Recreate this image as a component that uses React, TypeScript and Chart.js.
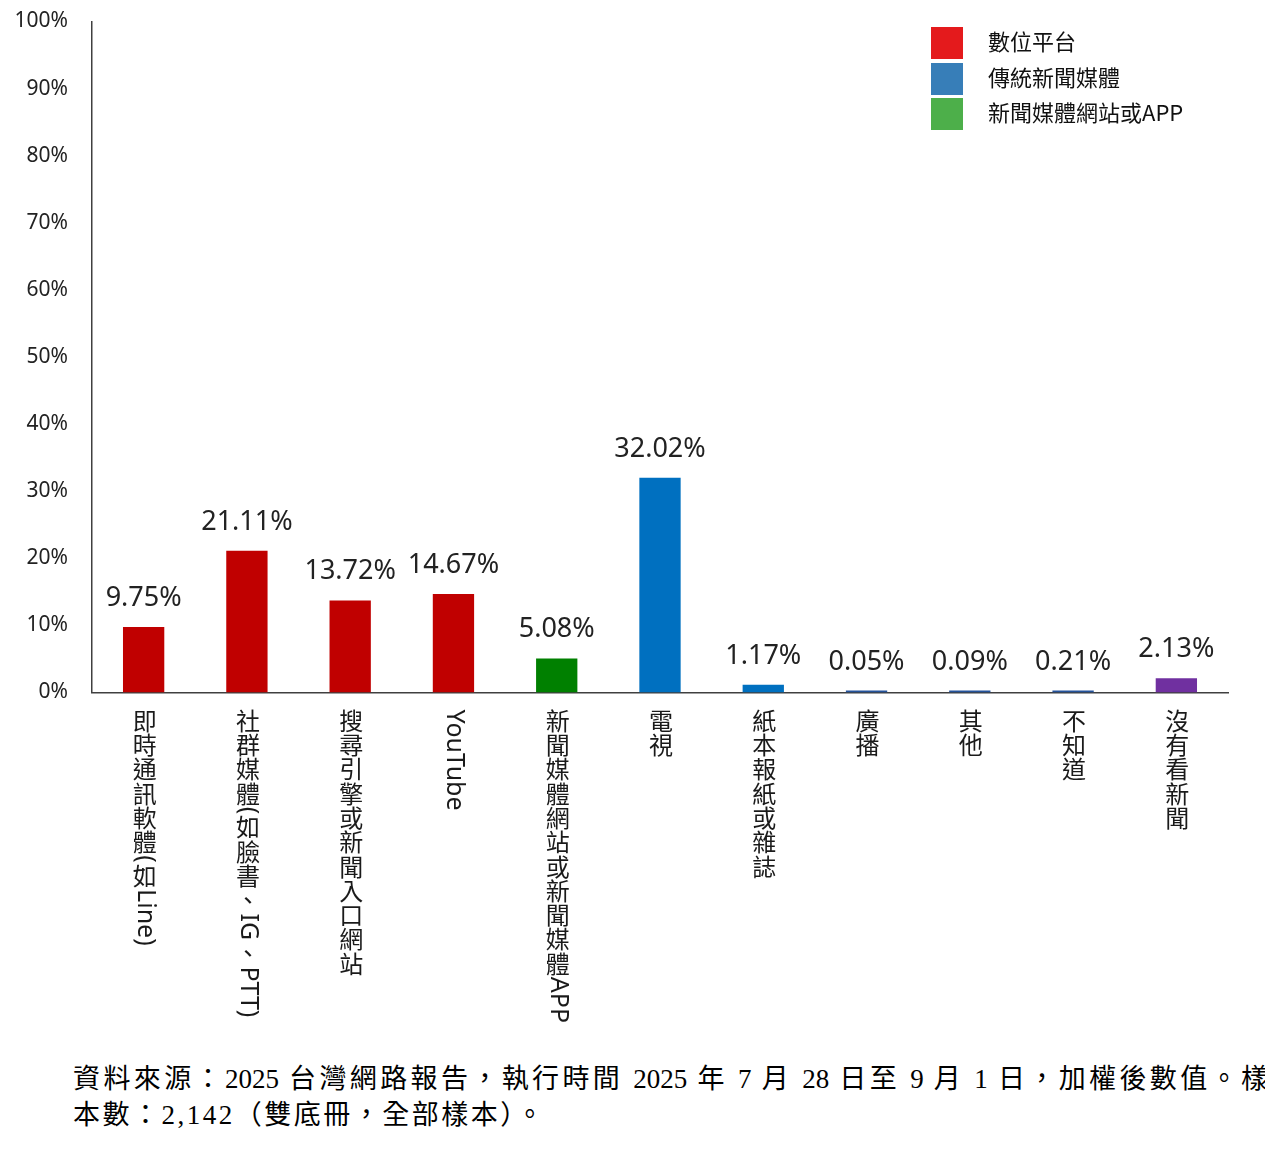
import React, { useEffect, useRef } from "react";
import { Chart, registerables } from "chart.js";

Chart.register(...registerables);

const categories = [
  "即時通訊軟體(如Line)",
  "社群媒體(如臉書、IG、PTT)",
  "搜尋引擎或新聞入口網站",
  "YouTube",
  "新聞媒體網站或新聞媒體APP",
  "電視",
  "紙本報紙或雜誌",
  "廣播",
  "其他",
  "不知道",
  "沒有看新聞",
];
const values = [9.75, 21.11, 13.72, 14.67, 5.08, 32.02, 1.17, 0.05, 0.09, 0.21, 2.13];
const barColors = [
  "#C00000",
  "#C00000",
  "#C00000",
  "#C00000",
  "#008000",
  "#0070C0",
  "#0070C0",
  "#24539C",
  "#24539C",
  "#24539C",
  "#7030A0",
];
const legendLabels = ["數位平台", "傳統新聞媒體", "新聞媒體網站或APP"];
const legendColors = ["#E41A1C", "#377EB8", "#4DAF4A"];
const yMin = 0;
const yMax = 100;
const yStep = 10;
const footnoteLine1 = "資料來源：2025 台灣網路報告，執行時間 2025 年 7 月 28 日至 9 月 1 日，加權後數值。樣";
const footnoteLine2 = "本數：2,142（雙底冊，全部樣本）。";

const CANVAS_W = 1257;
const CANVAS_H = 1040;

const valueLabelPlugin = {
  id: "valueLabels",
  afterDatasetsDraw(chart: any) {
    const ctx = chart.ctx;
    const meta = chart.getDatasetMeta(0);
    ctx.save();
    ctx.font = '27px "Noto Sans"';
    ctx.fillStyle = "#222222";
    ctx.textAlign = "center";
    ctx.textBaseline = "alphabetic";
    meta.data.forEach((bar: any, i: number) => {
      ctx.fillText(values[i].toFixed(2) + "%", bar.x, bar.y - 21);
    });
    ctx.restore();
  },
};

const verticalLabelPlugin = {
  id: "verticalLabels",
  afterDraw(chart: any) {
    const ctx = chart.ctx;
    const xScale = chart.scales.x;
    const top = chart.chartArea.bottom + 16;
    const step = 24.3;
    ctx.save();
    ctx.fillStyle = "#1a1a1a";
    categories.forEach((label, i) => {
      const x = xScale.getPixelForValue(i) + 1;
      let y = top;
      const runs: { text: string; upright: boolean }[] = [];
      for (const ch of Array.from(label)) {
        const upright = (ch.codePointAt(0) || 0) >= 0x2e80;
        if (!upright && runs.length && !runs[runs.length - 1].upright) {
          runs[runs.length - 1].text += ch;
        } else {
          runs.push({ text: ch, upright });
        }
      }
      for (const run of runs) {
        if (run.upright) {
          ctx.font = '24px "Noto Sans CJK TC"';
          ctx.textAlign = "center";
          ctx.textBaseline = "middle";
          ctx.fillText(run.text, x, y + step / 2);
          y += step;
        } else {
          ctx.font = '25px "Noto Sans"';
          const w = ctx.measureText(run.text).width;
          ctx.save();
          ctx.translate(x, y);
          ctx.rotate(Math.PI / 2);
          ctx.textAlign = "left";
          ctx.textBaseline = "middle";
          ctx.fillText(run.text, 1, 0);
          ctx.restore();
          y += w + 2;
        }
      }
    });
    ctx.restore();
  },
};

const legendPlugin = {
  id: "customLegend",
  afterDraw(chart: any) {
    const ctx = chart.ctx;
    ctx.save();
    const boxX = 923;
    const boxY = [19, 55, 90];
    legendLabels.forEach((label, i) => {
      ctx.fillStyle = legendColors[i];
      ctx.fillRect(boxX, boxY[i], 32, 32);
      ctx.fillStyle = "#111111";
      ctx.font = '22px "Noto Sans CJK TC"';
      ctx.textAlign = "left";
      ctx.textBaseline = "middle";
      ctx.fillText(label, 980, boxY[i] + 15);
    });
    ctx.restore();
  },
};

export default function App() {
  const canvasRef = useRef<HTMLCanvasElement | null>(null);

  useEffect(() => {
    if (!canvasRef.current) return;
    const chart = new Chart(canvasRef.current, {
      type: "bar",
      data: {
        labels: categories,
        datasets: [
          {
            data: values,
            backgroundColor: barColors,
            borderWidth: 0,
            barPercentage: 0.4,
            categoryPercentage: 1,
            minBarLength: 2,
          },
        ],
      },
      options: {
        responsive: false,
        animation: false,
        devicePixelRatio: 1,
        layout: { padding: { top: 13.5, right: 37, left: 0, bottom: 0 } },
        plugins: {
          legend: { display: false },
          tooltip: { enabled: false },
        },
        scales: {
          x: {
            grid: { display: false },
            border: { display: true, color: "#404040", width: 1.5 },
            ticks: { display: false },
            afterFit(scale: any) {
              scale.height = CANVAS_H - 684.5;
              scale.paddingLeft = 0;
              scale.paddingRight = 0;
              scale.paddingTop = 0;
              scale.paddingBottom = 0;
            },
          },
          y: {
            min: yMin,
            max: yMax,
            grid: { display: false },
            border: { display: true, color: "#404040", width: 1.5 },
            ticks: {
              stepSize: yStep,
              padding: 16,
              color: "#222222",
              font: { family: "Noto Sans", size: 21 },
              callback: (v: any) => v + "%",
            },
            afterFit(scale: any) {
              scale.width = 84;
              scale.paddingTop = 0;
              scale.paddingBottom = 0;
              scale.paddingLeft = 0;
              scale.paddingRight = 0;
            },
          },
        },
      },
      plugins: [valueLabelPlugin, verticalLabelPlugin, legendPlugin],
    });
    return () => chart.destroy();
  }, []);

  return (
    <div>
      <canvas
        ref={canvasRef}
        width={CANVAS_W}
        height={CANVAS_H}
        style={{ display: "block", width: CANVAS_W, height: CANVAS_H }}
      />
      <div
        style={{
          marginTop: 13,
          marginLeft: 65,
          width: 1195,
          fontFamily: '"Liberation Serif", "Noto Sans CJK TC", serif',
          fontSize: 27,
          lineHeight: "36px",
          color: "#000",
        }}
      >
        <div style={{ textAlign: "justify", textAlignLast: "justify", whiteSpace: "nowrap" }}>
          {footnoteLine1}
        </div>
        <div style={{ letterSpacing: "2.5px" }}>{footnoteLine2}</div>
      </div>
    </div>
  );
}
